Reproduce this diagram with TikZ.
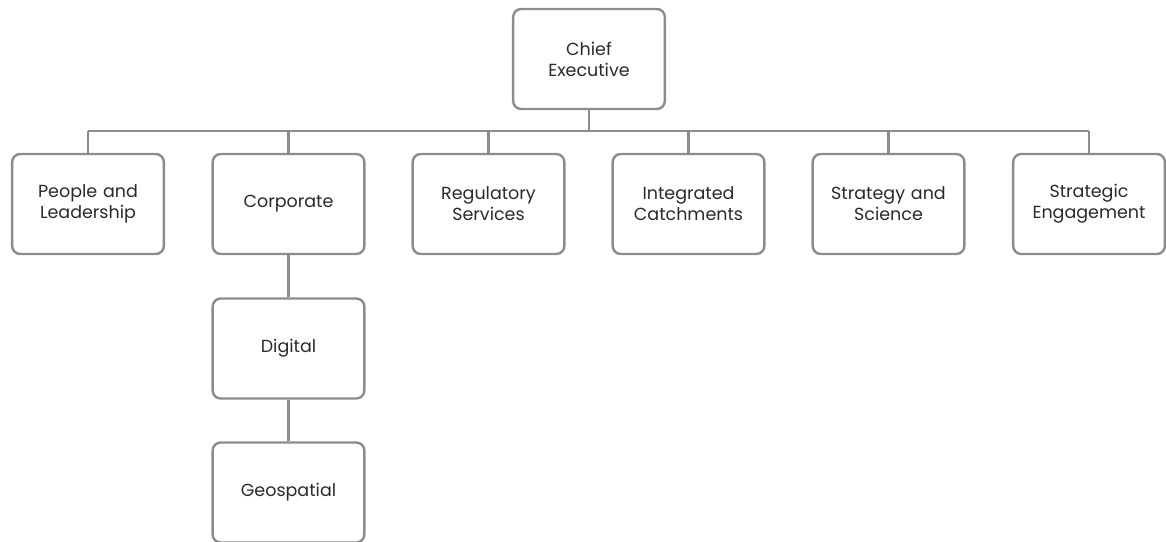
\documentclass[tikz,border=0pt]{standalone}
\usepackage{fontspec}
\setmainfont{Poppins}
\usepackage{tikz}
\definecolor{boxgray}{HTML}{8C8C8C}
\definecolor{labeltext}{HTML}{2A2A2A}

\begin{document}
\begin{tikzpicture}[x=1pt,y=-1pt,font=\fontsize{17.5}{21}\selectfont,
    unit/.style={draw=boxgray,line width=2.4pt,rounded corners=8pt,fill=white,
      minimum width=151pt,minimum height=100pt,text width=145pt,align=center,text=labeltext},
    link/.style={boxgray,line width=2.4pt}]
  \useasboundingbox (0,0) rectangle (1166,541);
  \node[unit] (chief) at (589,59) {Chief\\Executive};
  \coordinate (bus) at (589,131);
  % name / x centre / label
  \foreach \nm/\xx/\tx in {people/88/People and\\Leadership,corporate/288.5/Corporate,
                           regulatory/488.5/Regulatory\\Services,catchments/688.5/Integrated\\Catchments,
                           strategy/888.5/Strategy and\\Science,engagement/1089/Strategic\\Engagement}
    \node[unit] (\nm) at (\xx,204) {\tx};
  \node[unit] (digital) at (288.5,348.5) {Digital};
  \node[unit] (geo) at (288.5,492.5) {Geospatial};
  \draw[link] (chief) -- (bus);
  \draw[link] (people.north |- bus) -- (engagement.north |- bus);
  \foreach \nm in {people,corporate,regulatory,catchments,strategy,engagement}
    \draw[link] (\nm.north) -- (\nm.north |- bus);
  \draw[link] (corporate) -- (digital);
  \draw[link] (digital) -- (geo);
\end{tikzpicture}
\end{document}
